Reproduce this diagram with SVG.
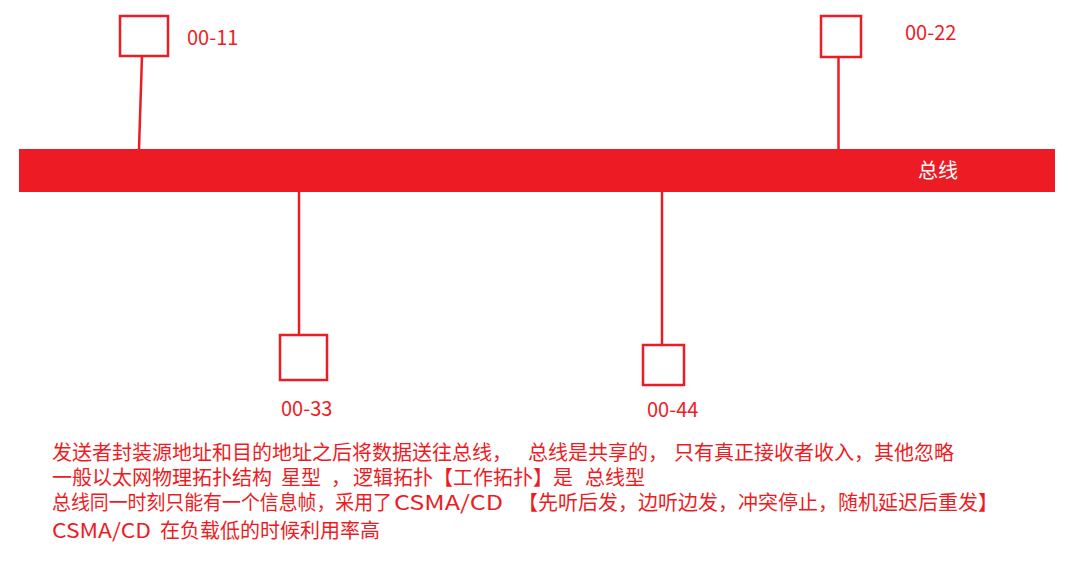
<svg xmlns="http://www.w3.org/2000/svg" width="1068" height="563" viewBox="0 0 1068 563">
<style>
.box{fill:#fff;stroke:#ED1C24;stroke-width:2.5}
.wire{stroke:#ED1C24;stroke-width:2.5;fill:none}
.t{font-family:"Noto Sans CJK SC","Microsoft YaHei",sans-serif;font-size:20px;fill:#ED1C24}
.w{fill:#fff}
</style>
<rect width="1068" height="563" fill="#fff"/>
<g id="bus">
<rect x="19" y="149" width="1036" height="43" fill="#ED1C24"/>
<text class="t w" x="918" y="178">总线</text>
</g>
<g id="connectors">
<line class="wire" x1="142" y1="56" x2="139" y2="149"/>
<line class="wire" x1="838.5" y1="57" x2="838.5" y2="149"/>
<line class="wire" x1="299" y1="192" x2="299" y2="335"/>
<line class="wire" x1="662" y1="192" x2="662" y2="345"/>
</g>
<g id="n11">
<rect class="box" x="120" y="16" width="48" height="40"/>
<text class="t" x="187" y="45">00-11</text>
</g>
<g id="n22">
<rect class="box" x="821" y="16" width="40" height="41"/>
<text class="t" x="905" y="40">00-22</text>
</g>
<g id="n33">
<rect class="box" x="280" y="335" width="47" height="45"/>
<text class="t" x="281" y="416">00-33</text>
</g>
<g id="n44">
<rect class="box" x="643" y="345" width="41" height="40"/>
<text class="t" x="647" y="417">00-44</text>
</g>
<g id="notes">
<text class="t" y="460"><tspan x="52">发送者封装源地址和目的地址之后将数据送往总线，</tspan><tspan x="528">总线是共享的，</tspan><tspan x="674">只有真正接收者收入，其他忽略</tspan></text>
<text class="t" y="485"><tspan x="52">一般以太网物理拓扑结构</tspan><tspan x="281">星型</tspan><tspan x="331">，</tspan><tspan x="353">逻辑拓扑【工作拓扑】是</tspan><tspan x="585">总线型</tspan></text>
<text class="t" y="510"><tspan x="52" textLength="340" lengthAdjust="spacingAndGlyphs">总线同一时刻只能有一个信息帧，采用了</tspan><tspan x="394" textLength="109" lengthAdjust="spacingAndGlyphs">CSMA/CD</tspan><tspan x="518">【先听后发，边听边发，冲突停止，随机延迟后重发】</tspan></text>
<text class="t" y="538"><tspan x="52" textLength="99" lengthAdjust="spacingAndGlyphs">CSMA/CD</tspan><tspan x="160">在负载低的时候利用率高</tspan></text>
</g>
</svg>
